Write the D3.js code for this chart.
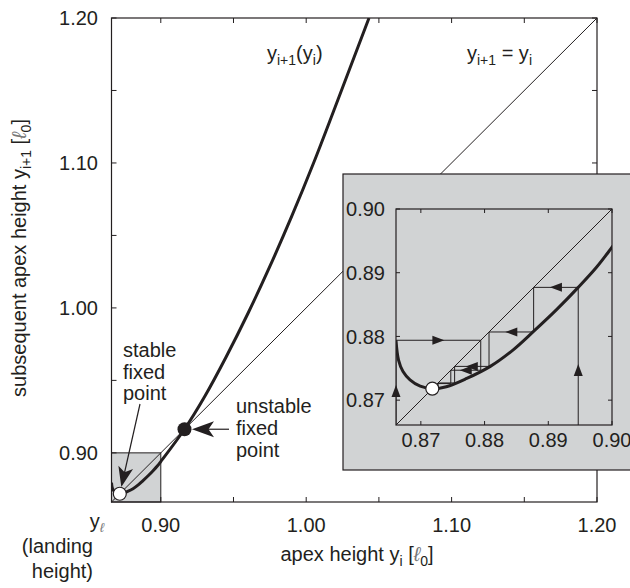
<!DOCTYPE html>
<html>
<head>
<meta charset="utf-8">
<script src="https://cdn.jsdelivr.net/npm/d3@7.9.0/dist/d3.min.js"></script>
<style>
  body { margin: 0; background: #fff; }
  svg { display: block; }
  text { font-family: "Liberation Sans", Arial, sans-serif; fill: #231f20; }
</style>
</head>
<body>
<svg id="chart" width="630" height="588"></svg>
<script>
// landing height (left end of the map)
const yL = 0.8661;
const mainTicks = [0.90, 0.95, 1.00, 1.05, 1.10, 1.15, 1.20];
const mainLabels = [0.90, 1.00, 1.10, 1.20];
const insetTicks = [0.87, 0.88, 0.89, 0.90];

// return map y_{i+1}(y_i)
const mapX = [0.8661, 0.8665, 0.8672, 0.8683, 0.8699, 0.8718, 0.8740, 0.8772, 0.8809, 0.8845, 0.8876,
              0.8913, 0.8947, 0.8976, 0.9000, 0.9163, 0.930, 0.945, 0.960, 0.975, 0.990, 1.005, 1.020, 1.0432];
const mapY = [0.8794, 0.8763, 0.8745, 0.8732, 0.8722, 0.8718, 0.8721, 0.8734, 0.8753, 0.8779, 0.8807,
              0.8842, 0.8877, 0.8909, 0.8940, 0.9163, 0.9385, 0.9663, 0.9963, 1.0286, 1.0631, 1.0998, 1.1388, 1.2000];

const stableFP = 0.8718;
const unstableFP = 0.9163;

// cobweb iterations in the inset (first value = start height)
const cobwebRight = [0.8947, 0.8877, 0.8807, 0.8753, 0.8727, 0.8720];
const cobwebLeft = [yL, 0.8794, 0.8747, 0.8726, 0.8720];

const svg = d3.select("#chart");
const gray = "#d1d3d4";
const ink = "#231f20";
const mapData = mapX.map((v, i) => [v, mapY[i]]);

// ---------- main plot ----------
const m = { left: 111.5, right: 597, top: 18, bottom: 502 };
const x = d3.scaleLinear().domain([yL, 1.2]).range([m.left, m.right]);
const y = d3.scaleLinear().domain([yL, 1.2]).range([m.bottom, m.top]);

svg.append("clipPath").attr("id", "clip-main")
  .append("rect")
  .attr("x", m.left).attr("y", m.top)
  .attr("width", m.right - m.left).attr("height", m.bottom - m.top);

// zoom box in the corner
svg.append("rect")
  .attr("x", x(yL)).attr("y", y(0.90))
  .attr("width", x(0.90) - x(yL)).attr("height", y(yL) - y(0.90))
  .attr("fill", gray).attr("stroke", ink).attr("stroke-width", 1);

svg.append("line")
  .attr("x1", x(yL)).attr("y1", y(yL))
  .attr("x2", x(1.2)).attr("y2", y(1.2))
  .attr("stroke", ink).attr("stroke-width", 1);

const mainLine = d3.line().x(d => x(d[0])).y(d => y(d[1])).curve(d3.curveCatmullRom);
svg.append("path")
  .datum(mapData)
  .attr("clip-path", "url(#clip-main)")
  .attr("fill", "none")
  .attr("stroke", ink)
  .attr("stroke-width", 3)
  .attr("d", mainLine);

// frame + inward ticks on all four sides
svg.append("rect")
  .attr("x", m.left).attr("y", m.top)
  .attr("width", m.right - m.left).attr("height", m.bottom - m.top)
  .attr("fill", "none").attr("stroke", ink).attr("stroke-width", 1.2);

const tk = 5;
mainTicks.forEach(t => {
  svg.append("line").attr("x1", x(t)).attr("x2", x(t)).attr("y1", m.bottom).attr("y2", m.bottom - tk).attr("stroke", ink);
  svg.append("line").attr("x1", x(t)).attr("x2", x(t)).attr("y1", m.top).attr("y2", m.top + tk).attr("stroke", ink);
  svg.append("line").attr("y1", y(t)).attr("y2", y(t)).attr("x1", m.left).attr("x2", m.left + tk).attr("stroke", ink);
  svg.append("line").attr("y1", y(t)).attr("y2", y(t)).attr("x1", m.right).attr("x2", m.right - tk).attr("stroke", ink);
});

const fs = 20;
svg.selectAll(".xlab").data(mainLabels).join("text")
  .attr("x", d => x(d)).attr("y", 532)
  .attr("text-anchor", "middle").attr("font-size", fs)
  .text(d => d.toFixed(2));

svg.selectAll(".ylab").data(mainLabels).join("text")
  .attr("x", 98).attr("y", d => y(d)).attr("dy", "0.36em")
  .attr("text-anchor", "end").attr("font-size", fs)
  .text(d => d.toFixed(2));

// y_l and "(landing height)"
const yl = svg.append("text").attr("x", 104).attr("y", 528).attr("text-anchor", "end").attr("font-size", fs);
yl.append("tspan").text("y");
yl.append("tspan").attr("font-size", 13).attr("font-style", "italic").attr("fill", "#777").attr("dy", 4).text("ℓ");
svg.append("text").attr("x", 93).attr("y", 553).attr("text-anchor", "end").attr("font-size", fs).text("(landing");
svg.append("text").attr("x", 93).attr("y", 578).attr("text-anchor", "end").attr("font-size", fs).text("height)");

// axis titles
const xt = svg.append("text").attr("x", 357).attr("y", 561).attr("text-anchor", "middle").attr("font-size", fs);
xt.append("tspan").text("apex height y");
xt.append("tspan").attr("font-size", 14).attr("dy", 5).text("i");
xt.append("tspan").attr("dy", -5).text(" [");
xt.append("tspan").attr("font-style", "italic").attr("fill", "#777").text("ℓ");
xt.append("tspan").attr("font-size", 14).attr("dy", 5).text("0");
xt.append("tspan").attr("dy", -5).text("]");

const yt = svg.append("text")
  .attr("transform", "translate(26,258) rotate(-90)")
  .attr("text-anchor", "middle").attr("font-size", fs);
yt.append("tspan").text("subsequent apex height y");
yt.append("tspan").attr("font-size", 14).attr("dy", 5).text("i+1");
yt.append("tspan").attr("dy", -5).text(" [");
yt.append("tspan").attr("font-style", "italic").attr("fill", "#777").text("ℓ");
yt.append("tspan").attr("font-size", 14).attr("dy", 5).text("0");
yt.append("tspan").attr("dy", -5).text("]");

// curve labels
const c1 = svg.append("text").attr("x", 267).attr("y", 60).attr("font-size", fs);
c1.append("tspan").text("y");
c1.append("tspan").attr("font-size", 14).attr("dy", 5).text("i+1");
c1.append("tspan").attr("dy", -5).text("(y");
c1.append("tspan").attr("font-size", 14).attr("dy", 5).text("i");
c1.append("tspan").attr("dy", -5).text(")");

const c2 = svg.append("text").attr("x", 467).attr("y", 60).attr("font-size", fs);
c2.append("tspan").text("y");
c2.append("tspan").attr("font-size", 14).attr("dy", 5).text("i+1");
c2.append("tspan").attr("dy", -5).text(" = y");
c2.append("tspan").attr("font-size", 14).attr("dy", 5).text("i");

// fixed points
svg.append("circle").attr("cx", x(unstableFP)).attr("cy", y(unstableFP)).attr("r", 7).attr("fill", ink);
svg.append("circle").attr("cx", x(stableFP)).attr("cy", y(stableFP)).attr("r", 6.5)
  .attr("fill", "#fff").attr("stroke", ink).attr("stroke-width", 1.2);

// big annotation arrows
function bigArrow(x0, y0, x1, y1, len, wid) {
  const a = Math.atan2(y1 - y0, x1 - x0) * 180 / Math.PI;
  svg.append("line").attr("x1", x0).attr("y1", y0)
    .attr("x2", x1 - len * 0.7 * Math.cos(a * Math.PI / 180))
    .attr("y2", y1 - len * 0.7 * Math.sin(a * Math.PI / 180))
    .attr("stroke", ink).attr("stroke-width", 1.2);
  svg.append("path")
    .attr("d", `M0,0 L${-len},${-wid / 2} L${-len * 0.75},0 L${-len},${wid / 2} Z`)
    .attr("transform", `translate(${x1},${y1}) rotate(${a})`)
    .attr("fill", ink);
}
const sx = x(stableFP), sy = y(stableFP);
{
  const dx = sx - 140, dy = sy - 404, L = Math.hypot(dx, dy);
  bigArrow(140, 404, sx - dx / L * 7, sy - dy / L * 7, 20, 15);
}
bigArrow(229, y(unstableFP), x(unstableFP) + 7.5, y(unstableFP), 22, 16);

function lines(txt, x0, y0, lh) {
  txt.forEach((t, i) => svg.append("text").attr("x", x0).attr("y", y0 + i * lh).attr("font-size", fs).text(t));
}
lines(["stable", "fixed", "point"], 123, 357, 21.5);
lines(["unstable", "fixed", "point"], 236, 413, 22);

// ---------- inset ----------
svg.append("rect")
  .attr("x", 343).attr("y", 174).attr("width", 300).attr("height", 296)
  .attr("fill", gray).attr("stroke", ink).attr("stroke-width", 1.2);

const ix = d3.scaleLinear().domain([yL, 0.90]).range([396, 612]);
const iy = d3.scaleLinear().domain([yL, 0.90]).range([425, 209]);

svg.append("clipPath").attr("id", "clip-inset")
  .append("rect").attr("x", 396).attr("y", 209).attr("width", 216).attr("height", 216);

svg.append("rect")
  .attr("x", 396).attr("y", 209).attr("width", 216).attr("height", 216)
  .attr("fill", gray).attr("stroke", ink).attr("stroke-width", 1.2);

insetTicks.forEach(t => {
  svg.append("line").attr("x1", ix(t)).attr("x2", ix(t)).attr("y1", 425).attr("y2", 421).attr("stroke", ink);
  svg.append("line").attr("x1", ix(t)).attr("x2", ix(t)).attr("y1", 209).attr("y2", 213).attr("stroke", ink);
  svg.append("line").attr("y1", iy(t)).attr("y2", iy(t)).attr("x1", 396).attr("x2", 400).attr("stroke", ink);
  svg.append("line").attr("y1", iy(t)).attr("y2", iy(t)).attr("x1", 612).attr("x2", 608).attr("stroke", ink);
});

svg.selectAll(".ixlab").data(insetTicks).join("text")
  .attr("x", d => ix(d)).attr("y", 447)
  .attr("text-anchor", "middle").attr("font-size", fs)
  .text(d => d.toFixed(2));
svg.selectAll(".iylab").data(insetTicks).join("text")
  .attr("x", 385).attr("y", d => iy(d)).attr("dy", "0.36em")
  .attr("text-anchor", "end").attr("font-size", fs)
  .text(d => d.toFixed(2));

const ig = svg.append("g").attr("clip-path", "url(#clip-inset)");
ig.append("line")
  .attr("x1", ix(yL)).attr("y1", iy(yL)).attr("x2", ix(0.90)).attr("y2", iy(0.90))
  .attr("stroke", ink).attr("stroke-width", 1);

const heads = [];
function cobweb(vals) {
  const pts = [[vals[0], yL]];
  for (let k = 1; k < vals.length; k++) {
    pts.push([vals[k - 1], vals[k]]);
    pts.push([vals[k], vals[k]]);
  }
  ig.append("path")
    .datum(pts)
    .attr("fill", "none").attr("stroke", ink).attr("stroke-width", 1)
    .attr("d", d3.line().x(d => ix(d[0])).y(d => iy(d[1])));

  // arrow on the first rise, then on the long horizontal steps
  heads.push([ix(vals[0]), iy(yL + (vals[1] - yL) * 0.4), -90]);
  for (let k = 1; k < vals.length; k++) {
    const xa = ix(vals[k - 1]), xb = ix(vals[k]);
    if (Math.abs(xb - xa) > 25) heads.push([(xa + xb) / 2, iy(vals[k]), xb > xa ? 0 : 180]);
  }
}
cobweb(cobwebRight);
cobweb(cobwebLeft);

ig.append("path")
  .datum(mapData)
  .attr("fill", "none").attr("stroke", ink).attr("stroke-width", 3)
  .attr("d", d3.line().x(d => ix(d[0])).y(d => iy(d[1])).curve(d3.curveCatmullRom));

heads.forEach(h => {
  svg.append("path")
    .attr("d", "M6,0 L-6,-4.5 L-6,4.5 Z")
    .attr("transform", `translate(${h[0]},${h[1]}) rotate(${h[2]})`)
    .attr("fill", ink);
});

svg.append("circle").attr("cx", ix(stableFP)).attr("cy", iy(stableFP)).attr("r", 6.5)
  .attr("fill", "#fff").attr("stroke", ink).attr("stroke-width", 1.2);
</script>
</body>
</html>
